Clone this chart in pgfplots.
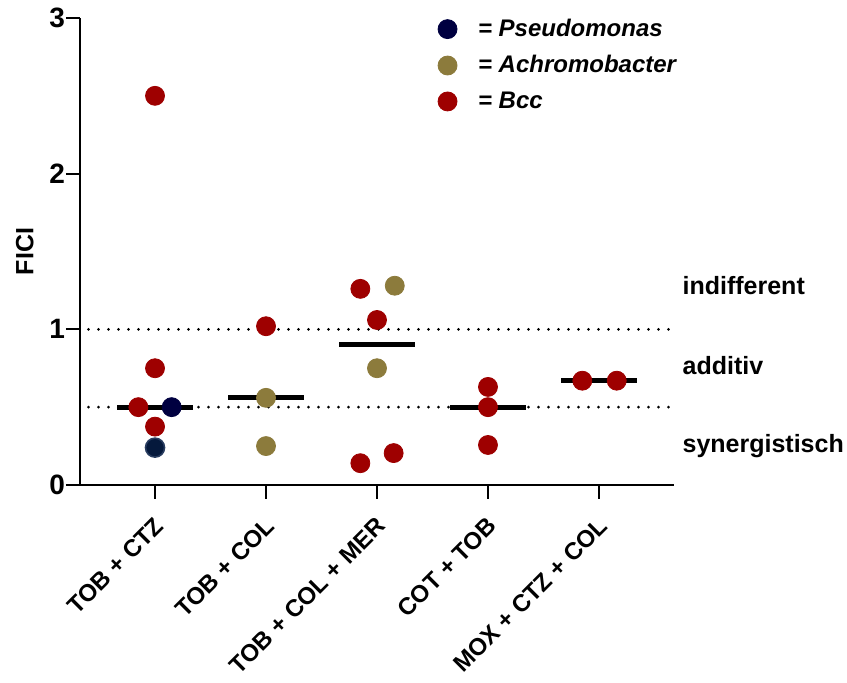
\documentclass[border=0pt]{standalone}
\usepackage{fontspec}
\setmainfont{Liberation Sans}
\usepackage{pgfplots}
\pgfplotsset{compat=1.18}
\definecolor{bccred}{RGB}{158,0,0}
\definecolor{psnavy}{RGB}{0,0,64}
\definecolor{acholive}{RGB}{140,123,60}
\definecolor{navyb}{RGB}{5,25,60}
\definecolor{navyedge}{RGB}{40,60,95}
\begin{document}
\begin{tikzpicture}
\path[use as bounding box] (0,0) rectangle (423.5pt,341.5pt);
\begin{axis}[
 at={(40pt,99pt)}, anchor=south west,
 scale only axis, width=297pt, height=233.5pt,
 xmin=-0.676, xmax=4.676, ymin=0, ymax=3,
 axis lines*=left, axis line style={line width=0.9pt},
 xtick={0,1,2,3,4},
 xticklabels={TOB + CTZ, TOB + COL, TOB + COL + MER, COT + TOB, MOX + CTZ + COL},
 ytick={0,1,2,3},
 tick align=outside, major tick length=7pt, tick style={line width=0.9pt, black},
 xticklabel style={rotate=45, anchor=east, xshift=-3pt, yshift=-9.65pt, font=\fontsize{12}{14}\selectfont\bfseries},
 yticklabel style={font=\fontsize{14}{16}\selectfont\bfseries, xshift=3pt},
 /pgf/number format/assume math mode=true,
 ylabel={FICI},
 ylabel style={at={(axis description cs:-0.093,0.5)}, anchor=center, font=\fontsize{12.5}{14}\selectfont\bfseries},
 clip=false,
 legend style={draw=none, fill=none, at={(axis description cs:0.592,1.016)}, anchor=north west,
   font=\fontsize{12}{14}\selectfont\bfseries\itshape, row sep=4pt},
 legend cell align=left,
 legend image code/.code={\draw[#1] plot coordinates {(0cm,0cm)}; \path[draw=none,fill=none] (0cm,0cm) -- (13.25pt,0cm);},
]
% dotted thresholds
\addplot[forget plot, black, line width=1.5pt, dash pattern=on 0pt off 5pt, line cap=round] coordinates {(-0.6,1)(4.676,1)};
\addplot[forget plot, black, line width=1.5pt, dash pattern=on 0pt off 5pt, line cap=round] coordinates {(-0.6,0.5)(4.676,0.5)};
% medians
\addplot[forget plot, black, line width=2.5pt] coordinates {(-0.34,0.5)(0.34,0.5)};
\addplot[forget plot, black, line width=2.5pt] coordinates {(0.66,0.56)(1.34,0.56)};
\addplot[forget plot, black, line width=2.5pt] coordinates {(1.66,0.905)(2.34,0.905)};
\addplot[forget plot, black, line width=2.5pt] coordinates {(2.66,0.5)(3.34,0.5)};
\addplot[forget plot, black, line width=2.5pt] coordinates {(3.66,0.67)(4.34,0.67)};
% Pseudomonas
\addplot[only marks, mark=*, mark size=4.75pt, mark options={fill=psnavy, draw=psnavy}] coordinates {(0.15,0.5)};
\addlegendentry{= Pseudomonas}
% Achromobacter
\addplot[only marks, mark=*, mark size=4.75pt, mark options={fill=acholive, draw=acholive}] coordinates {
 (1,0.56) (1,0.25) (2.16,1.28) (2,0.75)};
\addlegendentry{= Achromobacter}
% Bcc
\addplot[only marks, mark=*, mark size=4.75pt, mark options={fill=bccred, draw=bccred}] coordinates {
 (0,2.5) (0,0.75) (-0.15,0.5) (0,0.375)
 (1,1.02)
 (1.85,1.26) (2,1.06) (1.85,0.14) (2.15,0.205)
 (3,0.63) (3,0.5) (3,0.257)
 (3.85,0.67) (4.16,0.67)};
\addlegendentry{= Bcc}
\addplot[forget plot, only marks, mark=*, mark size=4.75pt, mark options={fill=navyb, draw=navyedge, line width=0.8pt}] coordinates {(0,0.24)};
% region labels
\node[anchor=west, inner sep=0pt, font=\fontsize{12.5}{14}\selectfont\bfseries] at (axis cs:4.75,1.278) {indifferent};
\node[anchor=west, inner sep=0pt, font=\fontsize{12.5}{14}\selectfont\bfseries] at (axis cs:4.75,0.77) {additiv};
\node[anchor=west, inner sep=0pt, font=\fontsize{12.5}{14}\selectfont\bfseries] at (axis cs:4.75,0.25) {synergistisch};
\end{axis}
\end{tikzpicture}
\end{document}
